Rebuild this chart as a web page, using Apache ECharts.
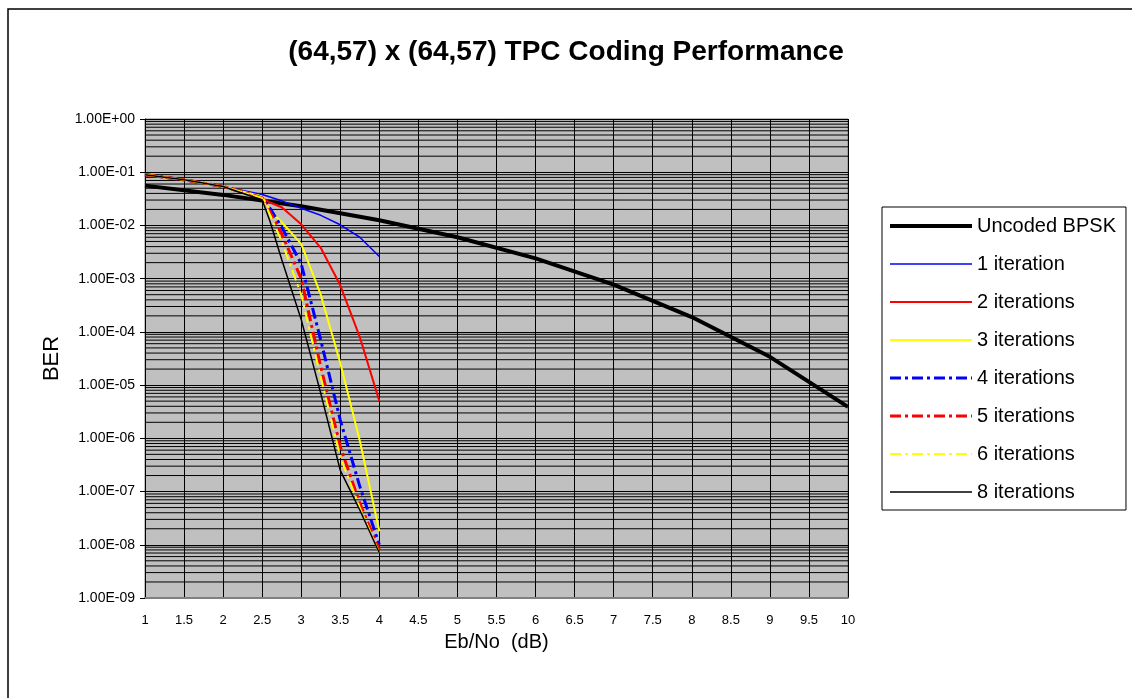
<!DOCTYPE html>
<html>
<head>
<meta charset="utf-8">
<title>TPC Coding Performance</title>
<script src="https://cdn.jsdelivr.net/npm/echarts@6/dist/echarts.min.js"></script>
<style>
	html, body { margin: 0; padding: 0; background: #fff; }
	#chart { width: 1132px; height: 698px; }
</style>
</head>
<body>
<div id="chart"></div>
<script>
	// Eb/No (dB) 取值
	var ebnoUncoded = [1, 2, 3, 4, 5, 6, 7, 8, 9, 10]
	var ebnoIter1 = [1, 1.5, 2, 2.5, 2.75, 3, 3.25, 3.5, 3.75, 4]
	var ebnoIter = [1, 1.5, 2, 2.5, 2.6, 2.75, 3, 3.25, 3.5, 3.75, 4]

	// BER
	var berUncoded = [5.6e-2, 3.75e-2, 2.3e-2, 1.25e-2, 6.0e-3, 2.4e-3, 7.7e-4, 1.9e-4, 3.4e-5, 3.9e-6]
	var berIter1 = [9e-2, 7.2e-2, 5.4e-2, 3.8e-2, 2.9e-2, 2.1e-2, 1.55e-2, 1.03e-2, 6e-3, 2.6e-3]
	var berIter2 = [9e-2, 7.2e-2, 5.4e-2, 3.3e-2, 2.7e-2, 2.2e-2, 1.05e-2, 3.8e-3, 7.5e-4, 8e-5, 5e-6]
	var berIter3 = [9e-2, 7.2e-2, 5.4e-2, 3.5e-2, 1.9e-2, 1.15e-2, 4.5e-3, 5e-4, 2.6e-5, 9e-7, 1.8e-8]
	var berIter4 = [9e-2, 7.2e-2, 5.4e-2, 3.3e-2, 2.1e-2, 9.3e-3, 1.9e-3, 7e-5, 2.2e-6, 1.25e-7, 1e-8]
	var berIter5 = [9e-2, 7.2e-2, 5.4e-2, 3.3e-2, 1.8e-2, 7e-3, 1e-3, 2.2e-5, 7e-7, 6e-8, 8e-9]
	var berIter6 = [9e-2, 7.2e-2, 5.4e-2, 3.3e-2, 1.6e-2, 5e-3, 5e-4, 1.4e-5, 4.5e-7, 5e-8, 7e-9]
	var berIter8 = [9e-2, 7.2e-2, 5.4e-2, 3e-2, 1.2e-2, 2.3e-3, 1.7e-4, 7e-6, 2.5e-7, 4.5e-8, 7e-9]

	var seriesNames = ['Uncoded BPSK', '1 iteration', '2 iterations', '3 iterations',
		'4 iterations', '5 iterations', '6 iterations', '8 iterations']

	// 对数刻度的次网格线 2..9 x 10^k
	var minorDecades = [-9, -8, -7, -6, -5, -4, -3, -2, -1]
	var minorSteps = [2, 3, 4, 5, 6, 7, 8, 9]

	var fontFamily = '"Liberation Sans", Arial, sans-serif'
	var dashDot = [11, 4, 3, 4]

	function pairs(xs, ys) {
		return xs.map(function (x, i) { return [x, ys[i]] })
	}

	// 次网格线: 每条从 x=1 到 x=10, 用 '-' 断开
	var minorData = []
	minorDecades.forEach(function (k) {
		minorSteps.forEach(function (m) {
			var v = m * Math.pow(10, k)
			minorData.push([1, v], [10, v], [10, '-'])
		})
	})

	function lineSeries(name, xs, ys, color, width, type) {
		return {
			name: name,
			type: 'line',
			data: pairs(xs, ys),
			symbol: 'none',
			showSymbol: false,
			animation: false,
			itemStyle: { color: color },
			lineStyle: { color: color, width: width, type: type || 'solid' }
		}
	}

	var myChart = echarts.init(document.getElementById('chart'))

	var option = {
		backgroundColor: '#fff',
		animation: false,
		title: {
			text: '(64,57) x (64,57) TPC Coding Performance',
			left: 'center',
			top: 33,
			textStyle: {
				fontFamily: fontFamily,
				fontWeight: 'bold',
				fontSize: 28,
				color: '#000'
			}
		},
		legend: {
			orient: 'vertical',
			left: 882,
			top: 207,
			padding: [9, 10, 8, 6],
			itemWidth: 82,
			itemHeight: 20,
			itemGap: 18,
			itemTextGap: 6,
			borderColor: '#000',
			borderWidth: 1,
			backgroundColor: '#fff',
			itemStyle: { opacity: 0 },
			lineStyle: { width: 'inherit' },
			textStyle: { fontFamily: fontFamily, fontSize: 20, color: '#000' },
			data: seriesNames
		},
		grid: {
			left: 145,
			top: 119,
			width: 703,
			height: 479,
			show: true,
			backgroundColor: '#c0c0c0',
			borderColor: '#808080',
			borderWidth: 1
		},
		xAxis: {
			type: 'value',
			min: 1,
			max: 10,
			interval: 0.5,
			name: 'Eb/No  (dB)',
			nameLocation: 'middle',
			nameGap: 34,
			nameTextStyle: { fontFamily: fontFamily, fontSize: 20, color: '#000' },
			axisLine: { show: true, onZero: false, lineStyle: { color: '#808080', width: 2 } },
			axisTick: { show: false },
			axisLabel: { fontFamily: fontFamily, fontSize: 13, color: '#000', margin: 16 },
			splitLine: { show: true, lineStyle: { color: '#000', width: 1 } }
		},
		yAxis: {
			type: 'log',
			logBase: 10,
			min: 1e-9,
			max: 1,
			splitNumber: 9,
			name: 'BER',
			nameLocation: 'middle',
			nameGap: 82,
			nameTextStyle: { fontFamily: fontFamily, fontSize: 22, color: '#000' },
			axisLine: { show: true, lineStyle: { color: '#000', width: 1 } },
			axisTick: { show: true, length: 5, lineStyle: { color: '#000' } },
			axisLabel: {
				fontFamily: fontFamily,
				fontSize: 14,
				color: '#000',
				margin: 10,
				formatter: function (v) {
					var e = Math.round(Math.log10(v))
					var s = e < 0 ? '-' : '+'
					var a = Math.abs(e)
					return '1.00E' + s + (a < 10 ? '0' + a : a)
				}
			},
			splitLine: { show: true, lineStyle: { color: '#000', width: 1 } }
		},
		graphic: [{
			type: 'rect',
			silent: true,
			shape: { x: 8, y: 9, width: 1140, height: 710 },
			style: { fill: null, stroke: '#000', lineWidth: 1.5 }
		}],
		series: [
			{
				name: 'minor',
				type: 'line',
				data: minorData,
				z: 1,
				silent: true,
				symbol: 'none',
				showSymbol: false,
				connectNulls: false,
				animation: false,
				lineStyle: { color: '#000', width: 1 },
				emphasis: { disabled: true }
			},
			lineSeries('Uncoded BPSK', ebnoUncoded, berUncoded, '#000', 4),
			lineSeries('1 iteration', ebnoIter1, berIter1, '#0000ff', 1.5),
			lineSeries('2 iterations', ebnoIter, berIter2, '#ff0000', 2),
			lineSeries('3 iterations', ebnoIter, berIter3, '#ffff00', 2),
			lineSeries('4 iterations', ebnoIter, berIter4, '#0000ff', 3, dashDot),
			lineSeries('5 iterations', ebnoIter, berIter5, '#ff0000', 3, dashDot),
			lineSeries('6 iterations', ebnoIter, berIter6, '#ffff00', 2, dashDot),
			lineSeries('8 iterations', ebnoIter, berIter8, '#000', 1.5)
		]
	}

	myChart.setOption(option, true)
</script>
</body>
</html>
